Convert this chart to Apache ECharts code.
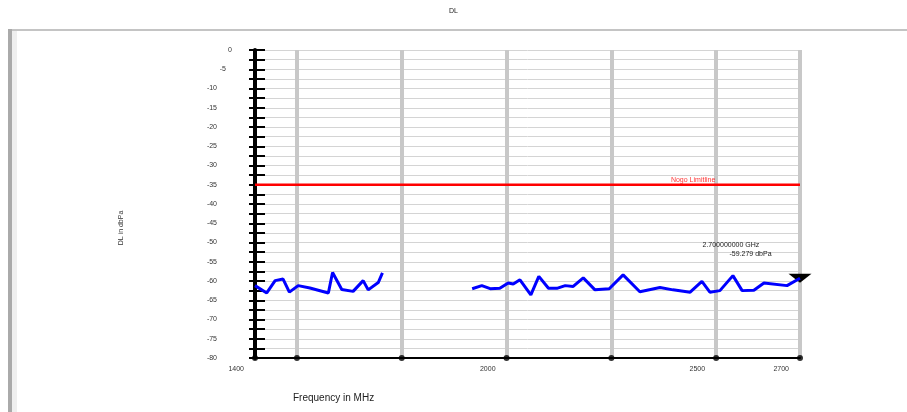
<!DOCTYPE html>
<html><head><meta charset="utf-8">
<script src="https://cdn.jsdelivr.net/npm/echarts@6/dist/echarts.min.js"></script>
<style>html,body{margin:0;padding:0;background:#fff}#c{width:907px;height:412px}</style>
</head><body><div id="c"></div>
<script>
// ---- data ----
const freq1 = [1400,1428,1448,1467,1482,1503,1531,1575,1585,1607,1634,1658,1670,1694,1704];
const level1 = [-61.2,-63.1,-59.9,-59.5,-62.9,-61.2,-61.8,-63.1,-57.8,-62.2,-62.7,-59.9,-62.3,-60.4,-57.9];
const freq2 = [1918,1941,1961,1984,2004,2016,2032,2058,2077,2100,2120,2140,2159,2183,2211,2245,2278,2318,2366,2397,2438,2466,2485,2509,2540,2562,2590,2614,2669,2700];
const level2 = [-62.0,-61.2,-62.0,-61.9,-60.5,-60.8,-59.7,-63.6,-58.8,-61.9,-61.9,-61.2,-61.4,-59.2,-62.3,-62.0,-58.4,-62.8,-61.7,-62.3,-62.9,-60.1,-62.9,-62.5,-58.6,-62.5,-62.4,-60.5,-61.2,-59.279];
const tickFreqs = [1400,1500,1750,2000,2250,2500,2700];
const labelFreqs = [1400,2000,2500,2700];
const limitValue = -35;
const limitName = 'Nogo Limitline';
const limitLabelFreq = 2445;
const markerFreq = 2700;
const markerLevel = -59.279;
const markerText1 = '2.700000000 GHz';
const markerText2 = '-59.279 dbPa';
const titleText = 'DL';
const xName = 'Frequency in MHz';
const yName = 'DL in dbPa';

const FONT = 'Liberation Sans, Arial, sans-serif';
const chart = echarts.init(document.getElementById('c'));
const yLabel = v => {
  if (v % 5 !== 0) return '';
  if (v === 0) return '{z|0}';
  if (v === -5) return '{f|-5}';
  return '{n|' + v + '}';
};
chart.setOption({
  animation: false,
  title: { text: titleText, left: 'center', top: 3, textStyle: { fontSize: 7, fontWeight: 'normal', color: '#222', fontFamily: FONT } },
  graphic: [
    { type: 'rect', shape: { x: 8, y: 29, width: 899, height: 2 }, style: { fill: '#c4c4c4' }, silent: true },
    { type: 'rect', shape: { x: 8, y: 29, width: 4, height: 383 }, style: { fill: '#aaaaaa' }, silent: true },
    { type: 'rect', shape: { x: 12, y: 31, width: 5, height: 381 }, style: { fill: '#efefef' }, silent: true },
    { type: 'text', left: 293, top: 393, style: { text: xName, fontSize: 10, fill: '#222', fontFamily: FONT } },
    { type: 'text', x: 121, y: 228, rotation: Math.PI / 2, style: { text: yName, fontSize: 7, fill: '#333', fontFamily: FONT, align: 'center', verticalAlign: 'middle' } }
  ],
  grid: { left: 255, right: 107, top: 50, bottom: 54 },
  xAxis: {
    type: 'value', min: 1400, max: 2700,
    axisLine: { show: true, onZero: false, lineStyle: { color: '#000', width: 2 } },
    axisTick: { show: false, customValues: tickFreqs },
    splitLine: { show: true, lineStyle: { color: '#c8c8c8', width: 4 } },
    axisLabel: { customValues: labelFreqs, formatter: v => String(v), fontSize: 7, color: '#333', fontFamily: FONT, align: 'right', padding: [0, 11, 0, 0], margin: 8 }
  },
  yAxis: [{
    type: 'value', min: -80, max: 0, interval: 2.5,
    axisLine: { show: true, onZero: false, lineStyle: { color: '#000', width: 4 } },
    axisTick: { show: true, length: 6, lineStyle: { color: '#000', width: 2 } },
    splitLine: { show: true, lineStyle: { color: '#d4d4d4', width: 1 } },
    axisLabel: {
      formatter: yLabel, margin: 23, fontSize: 7, color: '#333', fontFamily: FONT,
      rich: {
        z: { fontSize: 7, color: '#333', fontFamily: FONT },
        f: { fontSize: 7, color: '#333', fontFamily: FONT, padding: [0, 6, 0, 0] },
        n: { fontSize: 7, color: '#333', fontFamily: FONT, padding: [0, 15, 0, 0] }
      }
    }
  }, {
    type: 'value', min: -80, max: 0, interval: 2.5, position: 'left',
    axisLine: { show: false },
    axisTick: { show: true, inside: true, length: 10, lineStyle: { color: '#000', width: 2 } },
    splitLine: { show: false }, axisLabel: { show: false }
  }],
  series: [
    { type: 'line', data: [[1400, limitValue], [2700, limitValue]], symbol: 'none', lineStyle: { color: '#ff0000', width: 2.5 }, z: 3 },
    { type: 'scatter', data: [[limitLabelFreq, limitValue]], symbolSize: 0,
      label: { show: true, position: 'top', distance: 1, formatter: limitName, fontSize: 7, color: '#ff0000', fontFamily: FONT }, z: 4 },
    { type: 'line', data: freq1.map((f, i) => [f, level1[i]]), symbol: 'none', lineStyle: { color: '#0000ff', width: 3 }, z: 5 },
    { type: 'line', data: freq2.map((f, i) => [f, level2[i]]), symbol: 'none', lineStyle: { color: '#0000ff', width: 3 }, z: 5,
      markPoint: {
        data: [{ coord: [markerFreq, markerLevel], symbol: 'path://M0 0L10 0L5 4Z', symbolSize: [23, 9], itemStyle: { color: '#000' },
          label: { show: true, position: [-86, -33], align: 'left', formatter: '{a|' + markerText1 + '}\n{b|' + markerText2 + '}',
            rich: { a: { fontSize: 7, color: '#222', fontFamily: FONT, lineHeight: 9 },
                    b: { fontSize: 7, color: '#222', fontFamily: FONT, lineHeight: 9, padding: [0, 0, 0, 27] } } } }]
      } },
    { type: 'scatter', data: tickFreqs.map(f => [f, -80]), symbol: 'circle', symbolSize: 6, itemStyle: { color: '#000' }, z: 6, clip: false }
  ]
});
</script></body></html>
